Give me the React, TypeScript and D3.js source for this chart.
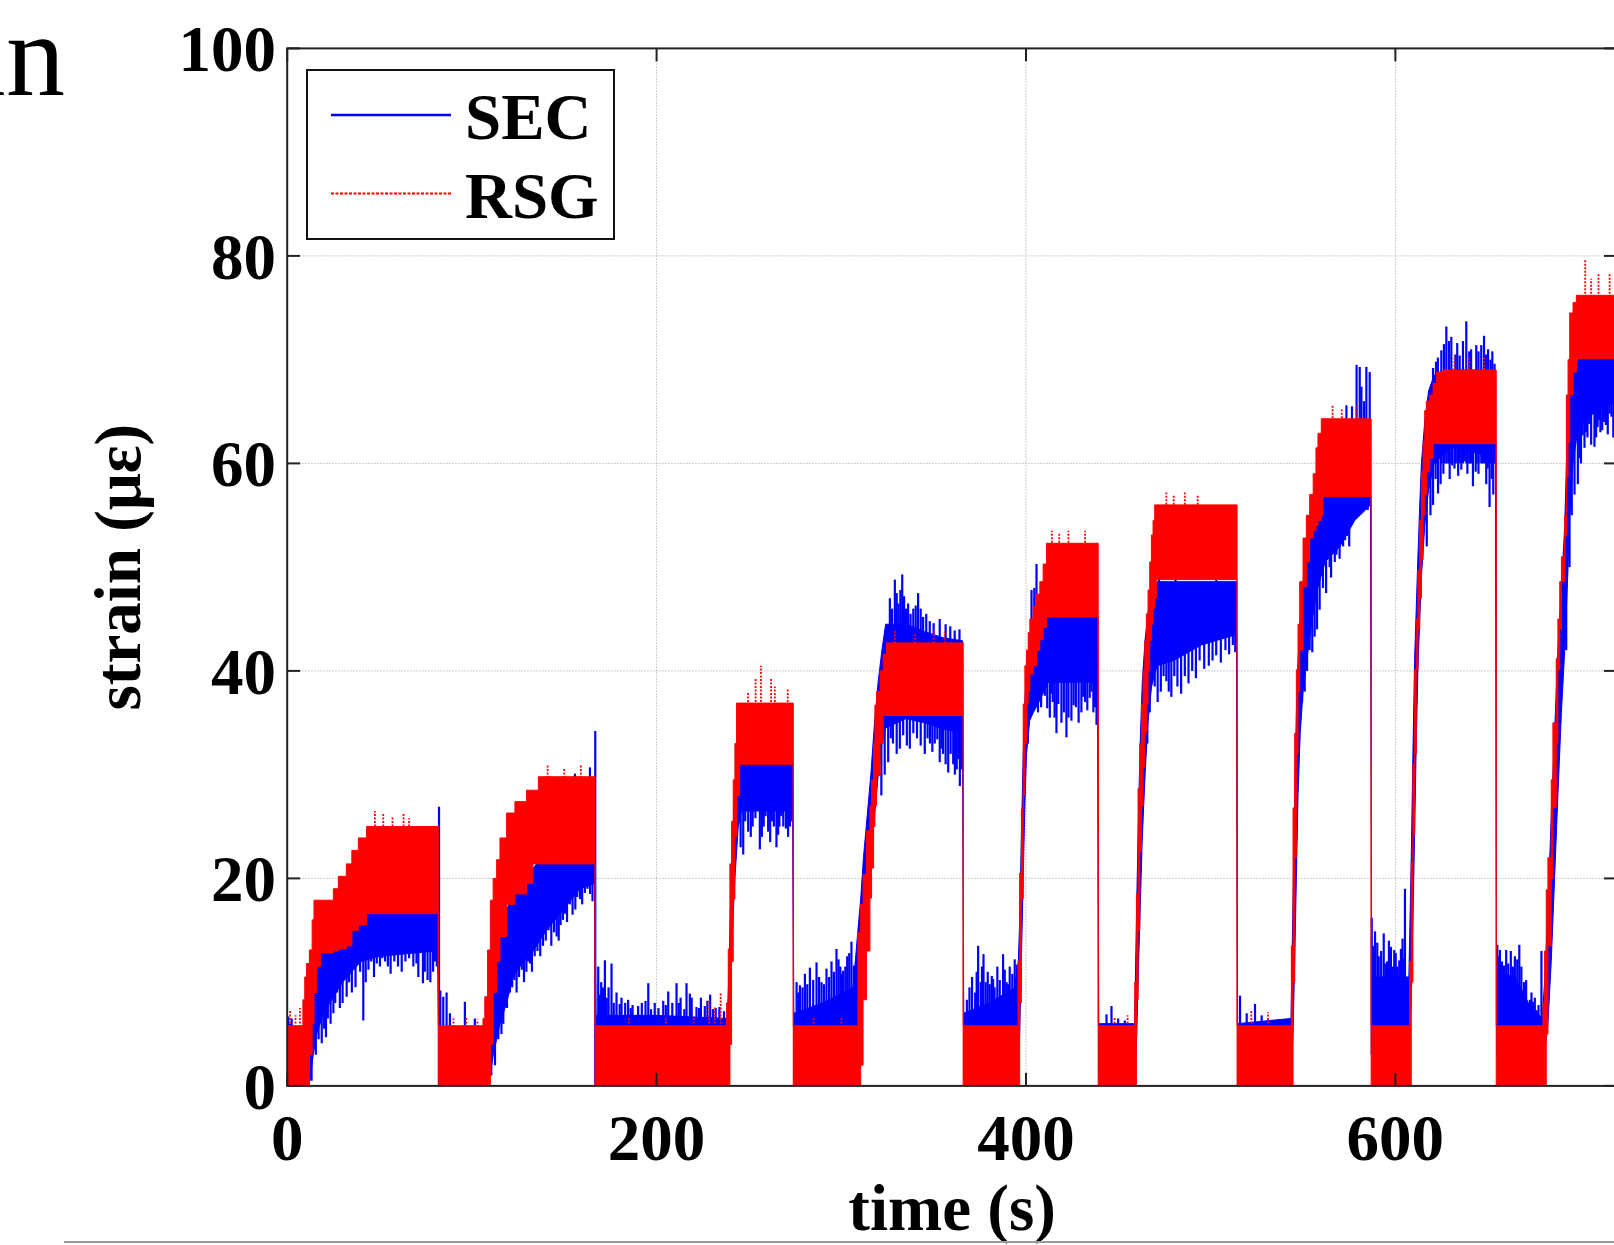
import React from "react";
import * as d3 from "d3";

// ---- data: time (s) vs strain (µε) ----
const timeTicks = [0, 200, 400, 600];
const strainTicks = [0, 20, 40, 60, 80, 100];
const gridTimes = [200, 400, 600];
const gridStrains = [20, 40, 60, 80];

// RSG (red, quantised) band: [t, low, high], holds until next point
const rsgBand: [number, number, number][] = [
  [0, 0, 5.8], [8.5, 0, 8.3], [9.5, 0, 10.5], [10.5, 0, 11.8], [12, 3, 13.1], [13.5, 6, 16],
  [14.5, 9, 17.9], [16, 11.5, 17.9], [18, 12.8, 17.9], [25, 13, 19], [27.7, 13.2, 20.2],
  [32, 13.5, 21.4], [35, 15, 22.7], [38.5, 15.5, 23.9], [43, 16.6, 25],
  [81.8, 0, 5.8],
  [106, 0, 6.5], [107, 0, 8.6], [108.5, 0, 13.1], [110, 4, 17.9], [111.5, 9, 20], [113.4, 12, 21.8],
  [115.2, 14.4, 23.9], [118.8, 17.5, 26.3], [123.3, 18.5, 27.4], [129.6, 19.5, 28.5], [133, 21.4, 28.5],
  [136, 21.4, 29.8],
  [166.7, 0, 5.8],
  [237.9, 0, 8], [238.8, 0, 13.2], [239.7, 4, 21.4], [240.6, 12, 25.5], [241.5, 18, 29.5],
  [242.4, 24, 33], [243.3, 28, 36.9], [245, 31, 36.9],
  [274, 0, 5.8],
  [309, 0, 14.8], [310.5, 2, 17.5], [311.8, 8.3, 20.4], [313.6, 13, 24.6], [315.5, 18.1, 27],
  [316.4, 21, 29.5], [317.5, 25, 33], [318.2, 27, 36.7], [319.1, 29.9, 38], [321, 33, 40],
  [322.7, 35.7, 41.6], [324.5, 35.7, 42.7],
  [366, 0, 5.8],
  [395.7, 0, 12], [396.6, 8, 20.5], [397.5, 18, 26.7], [398.5, 28, 36.8], [399.4, 33, 40.5],
  [400.3, 36.8, 42], [401.2, 38, 43.7], [402.1, 39.7, 45], [403.9, 40.5, 46.2], [405.7, 42, 47.4],
  [407.5, 43, 48.6], [409.3, 44.2, 50.3], [411.1, 45.2, 52.3],
  [439.1, 0, 5.8],
  [458.9, 0, 10], [459.8, 8.3, 18.5], [460.7, 15, 28.7], [461.6, 22.6, 33], [462.5, 27, 36.8],
  [463.4, 30.7, 40], [464.3, 34, 42.9], [465.2, 36.8, 45.5], [466.1, 40, 47.8], [467, 42.9, 50.5],
  [467.9, 44.5, 53.1], [468.8, 46, 54.5], [469.7, 47, 56], [470.6, 48.8, 56],
  [514.3, 0, 5.8],
  [543.7, 0, 13.5], [544.6, 10, 26.8], [545.5, 22, 34], [546.4, 32, 40.1], [547.3, 38, 44.5],
  [548.2, 42, 48.6], [550, 48.1, 52.8], [551.8, 50.5, 55], [553.6, 52.8, 57], [555.5, 53.5, 59],
  [557, 54, 61.5], [558.1, 54.5, 62.9], [559.9, 55, 64.3], [560.8, 56.8, 64.3],
  [586.9, 0, 5.8],
  [607.7, 0, 12], [608.6, 10, 21.5], [609.5, 24.2, 31], [610.4, 32, 40.1], [611.3, 40.1, 45],
  [612.2, 44, 49.7], [613.2, 47, 54.5], [614.1, 50.7, 59.2], [615, 55, 62], [615.9, 57, 65.1],
  [616.8, 59.2, 66], [618.6, 60.5, 66.6], [620.4, 61.9, 67.7], [622.2, 61.9, 68.8], [625.8, 61.9, 69],
  [654.6, 0, 5.8],
  [679.9, 0, 8], [680.8, 0, 13], [681.7, 5, 18.9], [682.6, 13.5, 22], [684.4, 20, 29.5],
  [685.3, 26.8, 35], [687.1, 33, 41.2], [688, 40.1, 45], [689, 44, 48.6], [689.9, 48.6, 51],
  [691.7, 53, 55], [692.6, 58.7, 66.6], [693.5, 62, 70], [694.4, 66.6, 74.5], [696.2, 68.8, 75.5],
  [698, 70.1, 76.2], [720, 70.1, 76.2],
];

// RSG speckles above the band: [t, low, high]
const rsgSpikes: [number, number, number][] = [
  [1.6, 5, 7.3], [4.5, 5, 6.8], [6.9, 5, 7.5],
  [47.5, 24, 26.5], [52, 24, 26.3], [57, 24, 26], [63, 24, 26.3], [66, 24, 25.8],
  [90, 5, 6.5], [97, 5, 6.6], [103, 5, 6.4],
  [141, 29, 31], [150, 29, 30.6], [159, 29, 31],
  [185, 5, 6.6], [205, 5, 6.5], [220, 5, 6.7],
  [228.5, 5, 8.3], [231.5, 5, 7.6], [234.7, 5, 9],
  [249.5, 36, 38], [253.6, 36, 39.3], [256.5, 36, 40.5], [262, 36, 39.3], [264, 36, 38.5], [271, 36, 38.2],
  [285, 5, 6.6], [300, 5, 6.5],
  [329, 42, 44], [340, 42, 43.5], [350, 42, 44], [356, 42, 43.8],
  [414, 51, 53.5], [418, 51, 53.3], [423, 51, 53.5], [432, 51, 53.5],
  [448, 5, 6.6], [455, 5, 6.8],
  [476, 55, 57.2], [480, 55, 57], [486, 55, 57.2], [493, 55, 57],
  [522, 5, 7.3], [531, 5, 7.1],
  [566, 63, 65.6], [571, 63, 65.2], [579, 63, 65.6],
  [632, 68, 70.4], [640, 68, 70.2], [648, 68, 70.4],
  [702.8, 75, 79.6], [706, 75, 77.8], [710, 75, 78.3], [716, 75, 78.3],
];

// SEC (blue) dense band: [t, low, high]
const secBand: [number, number, number][] = [
  [0, 0, 4.5], [11.4, 0, 4.5], [12.3, 0.5, 6], [14.1, 3, 9], [16, 5, 12], [18.7, 6.5, 13.5],
  [23, 8, 14], [30, 10, 15.5], [40, 12, 17], [50, 12.5, 17.7], [81.4, 13, 17.7],
  [82.4, 0, 5], [108, 0, 5], [109.8, 1, 7], [111.6, 3, 10], [115.2, 6, 14.5], [118.8, 8, 17],
  [122.4, 10.5, 18.5], [126, 11.5, 19.5], [133.2, 13, 21], [140.4, 15, 22.6], [149.5, 17, 22.6],
  [158.5, 19, 22.6], [166.4, 19.5, 22.6],
  [167.2, 0.5, 6.8], [200, 0.5, 6.8], [238.3, 0.5, 6.5], [239.2, 2, 11], [240.6, 13, 22],
  [242.4, 20, 28.5], [244.2, 25, 31.5], [246, 26.5, 31.5], [273.7, 26.5, 31.5],
  [274.3, 0.5, 7], [290, 1, 8], [306.4, 2, 9.5], [309, 4, 15], [310.5, 8, 18], [312, 13, 22],
  [314, 17, 26], [316, 22, 30], [318, 26, 35], [320, 30, 39], [322, 33, 42], [324, 34.5, 44.5],
  [335, 35.4, 44.5], [345, 35, 43.8], [355, 34.4, 43.2], [365.7, 34, 42.9],
  [366.3, 0.5, 7], [380, 1, 8], [395.4, 2, 9.6], [396.6, 5, 16], [397.5, 12, 24], [398.5, 20, 32],
  [399.4, 27, 37], [400.3, 32, 40], [402, 35.2, 42], [404, 36, 44], [407, 37, 45.2],
  [412, 38.9, 45.2], [438.8, 38.9, 45.2],
  [439.4, 0.5, 6], [458.8, 0.5, 6], [460, 5, 18], [461, 12, 27], [462, 18, 34], [463, 24, 39],
  [464.5, 30, 43], [466, 35, 45.5], [468, 38.5, 47.6], [471, 40.5, 48.6], [480, 41, 48.6],
  [495, 42.5, 48.6], [514, 43.5, 48.6],
  [514.6, 0.5, 6], [543.5, 0.5, 6.5], [544.6, 5, 18], [545.5, 12, 28], [546.4, 20, 36],
  [547.3, 28, 41], [548.5, 34, 45], [550, 38, 48.5], [552, 41, 51], [555, 45, 53.5],
  [558, 48, 55.5], [562, 50.5, 57], [570, 52, 57.5], [578, 54.5, 60], [586.6, 56, 62],
  [587.2, 4, 10.5], [607.3, 4, 10.5], [608.6, 8, 22], [609.5, 16, 32], [610.4, 24, 41],
  [611.3, 33, 46], [612.2, 40, 51], [613.2, 45, 56], [614.1, 49, 60], [615.9, 54, 64],
  [618, 57.5, 67], [621, 60, 68.5], [630, 61.5, 69], [645, 61, 69], [654.3, 60, 69],
  [654.8, 3, 11], [665, 3, 10.5], [672, 3, 8], [679.5, 3, 6.5], [680.8, 3, 10], [682.6, 6, 17],
  [684.4, 12, 26], [686.2, 20, 34], [688, 28, 42], [689.9, 36, 48], [691.7, 42, 54],
  [692.6, 46, 60], [693.5, 50, 64], [694.4, 55, 67], [696.2, 60, 69], [699, 63.5, 70.1],
  [705, 64.5, 70.1], [712, 65.5, 70.1], [720, 66, 70.1],
];

// SEC noise spikes: [t, low, high]
const secSpikes: [number, number, number][] = [
  [0.6, 2, 6.7], [1.5, 1, 6], [2.4, 2, 6.5],
  // cycle 1
  [13.2, 0.5, 5], [15.5, 3, 10], [17, 4.5, 11], [18.7, 4.1, 9], [20, 5.5, 12], [21, 4.7, 10],
  [22, 6.5, 12], [23.5, 6, 12], [25, 7, 13], [26, 8, 13], [27, 9, 14], [28.5, 7.5, 12], [30, 8, 14],
  [32.2, 8.6, 13], [33.5, 10, 15], [35, 9, 14], [37, 9.5, 15], [39.5, 11, 16], [41.2, 6.3, 15],
  [42.5, 10, 16], [44, 11.2, 16], [45.5, 12, 16], [47, 10.5, 16], [48.5, 11.8, 17], [50.2, 11.5, 17],
  [51.5, 12.3, 17], [53, 12, 17], [54.5, 11.5, 17], [56, 10.8, 16], [58, 12, 17], [60, 11.5, 17],
  [62, 11, 17], [64, 12, 17], [66, 12.3, 17], [68.3, 11.5, 17], [70, 11.8, 17], [71, 10.5, 16],
  [73.5, 9.9, 16], [74.5, 11, 17], [76, 10.2, 17], [77.5, 10, 17], [79, 11, 17], [80, 12, 17],
  [81, 11.5, 17],
  [82.2, 0, 26.9],
  [82.9, 1, 9.2], [84.5, 1, 8.6], [86.3, 1, 9], [88.1, 1, 7], [96.2, 1, 8.1], [101.6, 1, 6.5],
  // cycle 2
  [110.5, 1, 6], [112.5, 2, 9], [114.3, 4.5, 12], [116, 5, 13], [117, 6, 15], [119, 7.5, 16],
  [120.6, 9, 17], [121.8, 9.5, 17], [123, 10.2, 18], [124.2, 9, 18], [125.5, 10.5, 19],
  [127, 11.2, 19], [128.2, 10, 19], [129.5, 11, 20], [130.5, 12, 20], [131.4, 11.8, 20],
  [132.5, 11, 20], [134, 12.5, 21], [135.5, 13, 21], [137, 12.5, 21], [138.5, 13.5, 21],
  [140, 14, 22], [141.5, 15, 22], [143, 13.5, 22], [144.5, 14.8, 22], [145.9, 14.4, 22],
  [147, 14, 22], [148, 15.5, 22], [149.3, 16, 22], [150.4, 16.6, 22], [151.5, 15.8, 22],
  [153, 17.5, 22], [154.5, 16.5, 22], [156, 17, 22], [157, 18.2, 22], [158.5, 18, 22],
  [159.7, 17.5, 22], [161.2, 18.6, 22], [162.6, 19, 22], [164, 18.5, 22], [165.3, 17.8, 22],
  [152.2, 20, 24.3], [155.8, 20, 30.1], [158, 20, 27], [160.3, 20, 29.5], [162.5, 20, 28],
  [163.9, 20, 30.7], [166.1, 20, 29],
  [166.8, 0, 34.2],
  // low 2
  [168.4, 1, 11.5], [169.2, 1, 8.8], [170, 1, 10], [171, 1, 9.5], [172, 1, 12.1], [173, 1, 8.5],
  [174, 1, 9.5], [175.6, 1, 11.8], [176.8, 1, 8], [178.3, 1, 9], [180, 1, 7.9], [181, 1, 8.5],
  [183, 1, 8], [184.6, 1, 8.3], [186, 1, 7.5], [187, 1, 7.8], [190, 1, 7.7], [192, 1, 8],
  [194, 1, 8.2], [195.5, 1, 9.9], [197, 1, 7.4], [199, 1, 8], [201, 1, 7.5], [203.6, 1, 8.2],
  [205, 1, 7.8], [206.3, 1, 9.1], [208.5, 1, 8], [210.8, 1, 9.9], [212, 1, 8], [213, 1, 8.5],
  [215, 1, 7.4], [216.2, 1, 9.9], [218, 1, 8.9], [219, 1, 8.5], [221.6, 1, 7.6], [223, 1, 7.5],
  [224, 1, 8.5], [226.1, 1, 7.7], [227.5, 1, 8.2], [229, 1, 8.8], [230.5, 1, 7.4], [232, 1, 7.5],
  [234, 1, 7.6], [236.5, 1, 7.2],
  // cycle 3
  [245.5, 23, 29], [246.9, 22.3, 29], [248, 25.5, 29], [249.6, 24.5, 29], [251, 24, 29],
  [252, 25, 29], [253.5, 25.8, 29], [255.9, 22.8, 29], [257, 24, 29], [258, 25, 29], [259, 26, 29],
  [260.4, 24.5, 29], [261.5, 23.5, 29], [262.5, 25.5, 29], [263.5, 25, 29], [264.9, 23, 29],
  [265.8, 24.2, 29], [266.5, 25, 29], [267.5, 26, 29], [268.6, 25, 29], [270, 24.8, 29],
  [271.2, 24, 29], [272.2, 25, 29], [273, 25.5, 29],
  // low 3
  [275.8, 2, 10], [276.7, 2, 9], [277.6, 2, 9.7], [279, 2, 9.5], [280.3, 2, 10.8], [281.6, 2, 9.8],
  [283, 2, 11.4], [284.8, 2, 10.2], [286.6, 2, 11.9], [288, 2, 10.5], [289.3, 2, 10],
  [290.6, 2, 9.8], [292, 2, 11.3], [293.4, 2, 10.5], [294.7, 2, 12], [296, 2, 11],
  [297.4, 2, 13.2], [298.5, 2, 12.2], [299.5, 2, 11.5], [300.2, 2, 10.8], [301, 2, 11.1],
  [302.2, 2, 11.5], [303.2, 2, 12.5], [304.3, 2, 12.8], [305.5, 2, 13.9], [306.8, 2, 11.6],
  [308.2, 2, 12.2],
  // cycle 4
  [321.7, 28, 36], [323.5, 30, 36], [325.4, 31.2, 38], [326.8, 33.5, 38], [328, 33, 38],
  [330, 32, 38], [331.7, 32.5, 38], [333.5, 33.8, 38], [335.5, 32.8, 38], [337.1, 32.5, 38],
  [339, 34, 38], [341, 33.5, 38], [343, 32.8, 38], [345.2, 32, 38], [346.7, 33.5, 38],
  [348, 33, 38], [349.3, 32.2, 38], [350.6, 33, 38], [352, 33.4, 38], [353.3, 31.2, 38],
  [354.2, 32.5, 38], [355.1, 32, 38], [356.5, 31, 38], [357.9, 30.2, 38], [359.2, 32, 38],
  [360.6, 31, 38], [361.5, 30, 38], [362.5, 30.5, 38], [363.4, 31.5, 38], [364.2, 28.9, 38],
  [365.2, 30.5, 38],
  [326.3, 42, 47], [327.5, 42, 46], [329, 42, 48.8], [330, 42, 47.5], [331, 42, 46.5],
  [332, 42, 47.8], [333, 42, 49.3], [334, 42, 47.2], [335, 42, 46], [336.2, 42, 46.5],
  [337.5, 42, 45.5], [339, 42, 46], [340.3, 42, 46.3], [341.6, 42, 47.5], [343, 42, 46],
  [344.3, 42, 45.2], [346, 42, 45.5], [347.9, 42, 44.8], [350, 42, 44.6], [353.3, 42, 45],
  [356.5, 42, 44.5], [359, 42, 44.3], [361.4, 42, 43.9], [364, 42, 44],
  // low 4
  [368, 2, 8.3], [369.4, 2, 9.5], [370.8, 2, 10.5], [372.5, 2, 9], [373.3, 2, 11], [374.1, 2, 13.5],
  [375.5, 2, 10], [376.2, 2, 11.5], [377, 2, 12.7], [378.2, 2, 10], [379.3, 2, 11], [380.4, 2, 9.8],
  [381.5, 2, 10.6], [382.2, 2, 10.3], [383, 2, 9.5], [384.5, 2, 11.5], [385.8, 2, 10.2],
  [387.6, 2, 12.7], [388.5, 2, 11.2], [389.5, 2, 10], [390.4, 2, 9.8], [391.2, 2, 11.5],
  [392.6, 2, 10.8], [393.9, 2, 12.2], [394.5, 2, 10.4], [395, 2, 11.7],
  // cycle 5
  [403, 42, 47.8], [404.5, 42, 48], [405.7, 42, 50.3],
  [401, 33, 40], [406.5, 36, 42], [408.2, 36.5, 42], [410.2, 37.6, 42], [411.5, 36.4, 42],
  [412.9, 35.5, 42], [413.7, 37.8, 42], [414.5, 37, 42], [415.5, 35.5, 42], [416.5, 34, 42],
  [417.5, 36.8, 42], [419.2, 35, 42], [420.5, 36, 42], [421.9, 33.6, 42], [423, 35.5, 42],
  [424.6, 35.2, 42], [425.8, 36.7, 42], [427, 36.5, 42], [428.5, 35, 42], [430, 36, 42],
  [431, 37.5, 42], [432, 37, 42], [433.2, 36.2, 42], [434.5, 37.4, 42], [435.5, 38, 42],
  [436.5, 36, 42], [437.4, 36.5, 42], [438.2, 34.8, 42],
  // low 5
  [443.6, 1, 6.9], [446.3, 1, 7.7], [449.9, 1, 6.5], [453.5, 1, 6.3],
  // cycle 6
  [465.7, 33, 42], [467, 36, 42], [469.7, 38.5, 45], [471.3, 37, 45], [473, 38, 45],
  [474.5, 39.5, 45], [476, 39, 45], [477.3, 38, 45], [478.7, 37.5, 45], [480.3, 39.5, 45],
  [482, 38.5, 45], [484, 37.8, 45], [486, 39.5, 45], [488, 38.8, 45], [490, 40, 45],
  [492, 39.3, 45], [494, 41, 46], [496.5, 40.2, 46], [499, 40.5, 46], [501, 41, 46],
  [503, 41.5, 46], [505.5, 40.8, 46], [508, 42, 46], [510, 41.6, 46], [512, 42.5, 46],
  [513.3, 41.8, 46],
  [472, 47, 50], [481, 47, 50.3], [503, 47, 49.6],
  // low 6
  [515.9, 1, 8.7], [519.5, 1, 7], [524, 1, 7.9], [527.6, 1, 6.8], [530.4, 1, 6.2],
  // cycle 7
  [549.5, 37, 45], [550.9, 38, 46], [552.2, 40, 50], [553.6, 42, 50], [555, 41.8, 52],
  [556.3, 43.3, 52], [557.6, 44, 54], [559, 45.9, 54], [560.8, 48, 55], [562.5, 47.5, 55],
  [564.4, 50, 56], [565.2, 49, 56], [566, 51.3, 56], [567.2, 50.5, 56], [568.1, 51.2, 56],
  [569.8, 50.8, 56], [571.7, 52, 57], [572.8, 52.6, 57], [574, 53, 57], [575, 52, 58],
  [576.1, 54.7, 58], [577.1, 55.6, 58], [578.5, 55, 59], [580, 56, 60], [582.5, 56.5, 61],
  [585, 55.5, 61],
  [571, 57, 62], [573.5, 57, 65.6], [575.3, 57, 64], [576.5, 57, 65.5], [579, 57, 69.5],
  [580.7, 57, 69.3], [581.6, 57, 67.4], [583, 57, 66], [584.3, 57, 69.3], [586.1, 57, 68.8],
  // low 7
  [587.2, 3, 16.2], [588, 3, 13.5], [589, 3, 14.9], [590.2, 3, 13.8], [591, 3, 12.5],
  [592.3, 3, 13], [593.7, 3, 14.7], [594.6, 3, 11.8], [595.5, 3, 12], [596.5, 3, 14],
  [597.6, 3, 13.4], [598.5, 3, 11.5], [599.4, 3, 13.1], [600.2, 3, 12.8], [601, 3, 11.5],
  [602.1, 3, 12.1], [603, 3, 13.2], [603.9, 3, 14.2], [604.6, 3, 12.3], [605.2, 3, 19],
  [606.3, 3, 8.6],
  // cycle 8
  [620.4, 60, 69.2], [622, 60, 69.8], [623, 60, 70.2], [624.9, 60, 70.9], [626.3, 60, 71.5],
  [627.6, 60, 73.2], [629, 60, 71.8], [630.3, 60, 72.2], [632.5, 60, 70.5], [633.5, 60, 71.6],
  [634.8, 60, 70.4], [636.6, 60, 71.8], [638.4, 60, 73.7], [640, 60, 70.8], [641, 60, 71],
  [643.8, 60, 71.4], [645, 60, 70.8], [646.5, 60, 71.4], [648, 60, 72.3], [649, 60, 70.5],
  [650.2, 60, 71], [651.5, 60, 70], [652.5, 60, 70.8], [653.7, 60, 69.6],
  [617, 52, 60], [619, 55, 62], [620.4, 56, 62], [621.8, 58.5, 62], [623.1, 57.1, 62],
  [624.5, 58, 63], [626, 59, 63], [627.8, 60, 63], [629.4, 58.5, 63], [630.8, 59.8, 63],
  [632, 59.5, 63], [634, 58.8, 63], [635.7, 59.4, 63], [637.5, 60.2, 63], [639, 59, 63],
  [640.5, 60, 63], [642, 57.8, 63], [643.5, 59.2, 63], [645, 59, 63], [647, 60, 63],
  [649.2, 58, 63], [650, 59.5, 63], [651, 55.8, 63], [652.2, 58.5, 63], [653, 57, 63],
  // low 8
  [655.2, 3, 13.6], [655.8, 3, 12.5], [656.6, 3, 13.1], [657.7, 3, 12], [658.8, 3, 11.6],
  [660, 3, 13.1], [661.1, 3, 11.8], [662.5, 3, 13], [663.6, 3, 11.5], [664.7, 3, 12.5],
  [666, 3, 12.2], [667.1, 3, 13.6], [668.2, 3, 11.5], [669.6, 3, 10], [670.8, 3, 10.2],
  [672.8, 3, 8.3], [673.7, 3, 9], [674.6, 3, 8.1], [675.5, 3, 8.5], [676.4, 3, 7.3],
  [677.5, 3, 7.8], [679.1, 3, 13],
  // cycle 9
  [689.8, 38, 46], [692.5, 42, 52], [694.3, 50, 60], [695.5, 55, 62], [697, 57, 64],
  [698.8, 58, 65], [699.8, 60.5, 66], [700.5, 60, 66], [701.4, 62.7, 66], [702.4, 61.5, 66],
  [703.2, 63, 67], [704, 62.5, 67], [705, 63.8, 67], [706, 61.8, 67], [707.8, 61.6, 67],
  [708.7, 62.5, 67], [709.5, 63.5, 67], [710.2, 64.2, 67], [711, 63, 67], [712, 63.2, 67],
  [713, 64, 67], [714, 63.7, 67], [715, 62.8, 67], [716, 64.8, 67], [717, 64.5, 67],
  [718, 62.5, 67], [719, 63.5, 67],
];

const W = 1614;
const H = 1245;
const serif = "'Liberation Serif', 'Times New Roman', Times, serif";

export default function App() {
  const x = d3.scaleLinear().domain([0, 720]).range([287.2, 1617]);
  const y = d3.scaleLinear().domain([0, 100]).range([1085.9, 48.4]);
  const [x0, x1] = x.range();
  const [y0, y1] = y.range();

  const redArea = d3.area<[number, number, number]>()
    .x(d => x(d[0]))
    .y0(d => y(d[1]))
    .y1(d => y(d[2]))
    .curve(d3.curveStepAfter);

  const blueArea = d3.area<[number, number, number]>()
    .x(d => x(d[0]))
    .y0(d => y(d[1]))
    .y1(d => y(d[2]));

  const tickLen = 13;
  const axisColor = "#222";

  return (
    <svg width={W} height={H} style={{ position: "absolute", left: 0, top: 0, background: "#fff" }}
      fontFamily={serif}>
      <defs>
        <clipPath id="plot-clip">
          <rect x={x0} y={y1} width={x1 - x0} height={y0 - y1} />
        </clipPath>
      </defs>

      {/* cut-off title fragment at the page edge */}
      <text x={65} y={95} fontSize={118} textAnchor="end" fill="#000">strain</text>

      {/* grid */}
      <g stroke="#bdbdbd" strokeWidth={1} strokeDasharray="1.5 1.5">
        {gridTimes.map(t => (
          <line key={`gx${t}`} x1={x(t)} x2={x(t)} y1={y1} y2={y0} />
        ))}
        {gridStrains.map(v => (
          <line key={`gy${v}`} x1={x0} x2={x1} y1={y(v)} y2={y(v)} />
        ))}
      </g>

      {/* series */}
      <g clipPath="url(#plot-clip)">
        <path d={blueArea(secBand) || ""} fill="#0000ff" stroke="#0000ff" strokeWidth={1} />
        <g stroke="#0000ff" strokeWidth={2.2}>
          {secSpikes.map((s, i) => (
            <line key={i} x1={x(s[0])} x2={x(s[0])} y1={y(s[1])} y2={y(s[2])} />
          ))}
        </g>
        <path d={redArea(rsgBand) || ""} fill="#ff0000" stroke="#ff0000" strokeWidth={1} />
        <g stroke="#ff0000" strokeWidth={1.8} strokeDasharray="2 1.5">
          {rsgSpikes.map((s, i) => (
            <line key={i} x1={x(s[0])} x2={x(s[0])} y1={y(s[1])} y2={y(s[2])} />
          ))}
        </g>
      </g>

      {/* axes box */}
      <rect x={x0} y={y1} width={x1 - x0} height={y0 - y1} fill="none" stroke={axisColor} strokeWidth={2} />
      <g stroke={axisColor} strokeWidth={2}>
        {timeTicks.map(t => (
          <g key={`tx${t}`}>
            <line x1={x(t)} x2={x(t)} y1={y0} y2={y0 - tickLen} />
            <line x1={x(t)} x2={x(t)} y1={y1} y2={y1 + tickLen} />
          </g>
        ))}
        {strainTicks.map(v => (
          <g key={`ty${v}`}>
            <line x1={x0} x2={x0 + tickLen} y1={y(v)} y2={y(v)} />
            <line x1={x1} x2={x1 - tickLen} y1={y(v)} y2={y(v)} />
          </g>
        ))}
      </g>

      {/* tick labels */}
      <g fontSize={65} fontWeight="bold" fill="#000">
        {strainTicks.map(v => (
          <text key={`ly${v}`} x={276} y={y(v) + 23} textAnchor="end">{v}</text>
        ))}
        {timeTicks.map(t => (
          <text key={`lx${t}`} x={x(t)} y={1160} textAnchor="middle">{t}</text>
        ))}
        <text x={(x0 + 1617) / 2} y={1230} textAnchor="middle">time (s)</text>
        <text transform={`translate(140, ${(y0 + y1) / 2}) rotate(-90)`} textAnchor="middle">strain (με)</text>
      </g>

      {/* legend */}
      <g>
        <rect x={307} y={70} width={307} height={169} fill="#fff" stroke="#111" strokeWidth={2} />
        <line x1={331} x2={451} y1={115} y2={115} stroke="#0000ff" strokeWidth={2.5} />
        <line x1={331} x2={451} y1={193.5} y2={193.5} stroke="#ff0000" strokeWidth={2} strokeDasharray="3 1.5" />
        <text x={465} y={139} fontSize={65} fontWeight="bold">SEC</text>
        <text x={465} y={218} fontSize={65} fontWeight="bold">RSG</text>
      </g>

      {/* page edge line */}
      <line x1={64} x2={W} y1={1242} y2={1242} stroke="#9a9a9a" strokeWidth={2} />
    </svg>
  );
}
